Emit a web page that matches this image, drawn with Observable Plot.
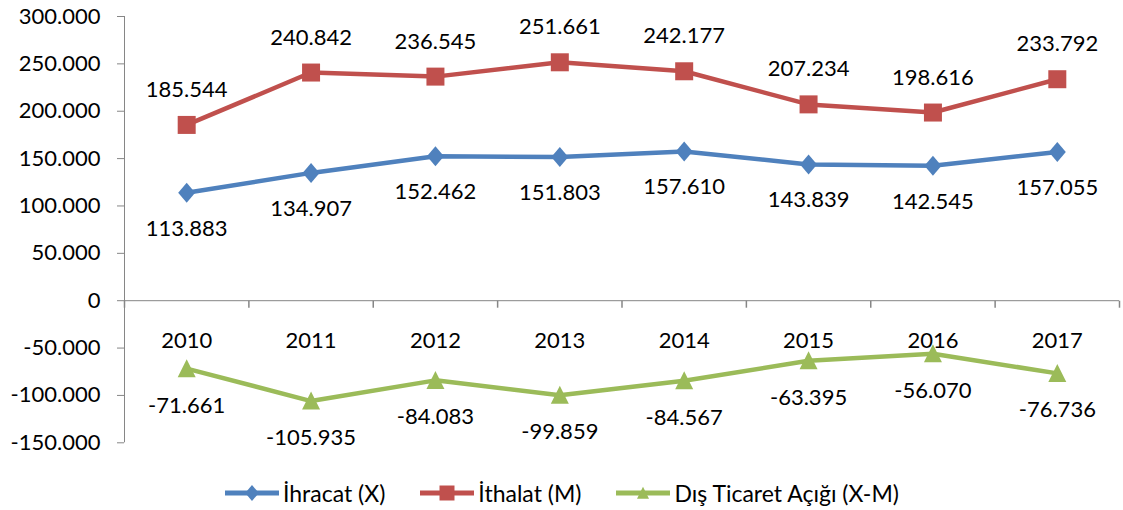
<!DOCTYPE html>
<html>
<head>
<meta charset="utf-8">
<script src="https://cdn.jsdelivr.net/npm/d3@7"></script>
<script src="https://cdn.jsdelivr.net/npm/@observablehq/plot@0.6"></script>
<style>
  body { margin: 0; background: #fff; font-family: Lato, sans-serif; }
  #chart { width: 1123px; height: 510px; position: relative; }
  #legend { position: absolute; left: 225px; top: 481px; height: 24px;
    display: flex; justify-content: flex-start; align-items: center; gap: 35px; font-size: 23px; color: #000; white-space: nowrap; }
  .item { display: flex; align-items: center; }
  .item svg { margin-right: 4px; }
</style>
</head>
<body>
<div id="chart"></div>
<script>
const years = [2010, 2011, 2012, 2013, 2014, 2015, 2016, 2017];
const ihracat = [113883, 134907, 152462, 151803, 157610, 143839, 142545, 157055];
const ithalat = [185544, 240842, 236545, 251661, 242177, 207234, 198616, 233792];
const acik = [-71661, -105935, -84083, -99859, -84567, -63395, -56070, -76736];
const yTicks = [-150000, -100000, -50000, 0, 50000, 100000, 150000, 200000, 250000, 300000];
const seriesNames = ["İhracat (X)", "İthalat (M)", "Dış Ticaret Açığı (X-M)"];
const colors = ["#4F81BD", "#C0504D", "#9BBB59"];

const loc = d3.formatLocale({decimal: ",", thousands: ".", grouping: [3], currency: ["", ""], minus: "-"});
const fmt = loc.format(",d");

const toRows = vals => years.map((y, i) => ({year: y, value: vals[i]}));
const rX = toRows(ihracat), rM = toRows(ithalat), rA = toRows(acik);
const bounds = d3.range(years[0] - 0.5, years[years.length - 1] + 1, 1);

const diamond = {draw(ctx, size) { const r = Math.sqrt(size / Math.PI); ctx.moveTo(0, -r); ctx.lineTo(r * 0.85, 0); ctx.lineTo(0, r); ctx.lineTo(-r * 0.85, 0); ctx.closePath(); }};
const square = {draw(ctx, size) { const r = Math.sqrt(size / Math.PI); ctx.rect(-r, -r, 2 * r, 2 * r); }};
const triangle = {draw(ctx, size) { const r = Math.sqrt(size / Math.PI); ctx.moveTo(0, -r * 1.05); ctx.lineTo(r, r * 0.95); ctx.lineTo(-r, r * 0.95); ctx.closePath(); }};
const tickDown = {draw(ctx, size) { const r = Math.sqrt(size / Math.PI); ctx.moveTo(0, 0); ctx.lineTo(0, r); }};

const gray = "#868686";
const plot = Plot.plot({
  width: 1123,
  height: 468,
  marginLeft: 124,
  marginRight: 4,
  marginTop: 16,
  marginBottom: 468 - 442.3,
  style: {fontFamily: "Lato, sans-serif", fontSize: "22px", background: "transparent", color: "#000"},
  x: {type: "linear", domain: [years[0] - 0.5, years[years.length - 1] + 0.5], axis: null},
  y: {domain: [yTicks[0], yTicks[yTicks.length - 1]]},
  marks: [
    Plot.axisY({ticks: yTicks, tickFormat: fmt, tickSize: 7, tickPadding: 17, stroke: gray, fill: "#000", label: null}),
    Plot.ruleX([years[0] - 0.5], {y1: yTicks[0], y2: yTicks[yTicks.length - 1], stroke: gray}),
    Plot.ruleY([0], {x1: years[0] - 0.5, x2: years[years.length - 1] + 0.5, stroke: gray}),
    Plot.dot(bounds, {x: d => d, y: 0, symbol: tickDown, r: 7, stroke: gray, fill: "none"}),
    Plot.text(years, {x: d => d, y: 0, text: d => String(d), dy: 40.5, fill: "#000"}),
    Plot.line(rX, {x: "year", y: "value", stroke: colors[0], strokeWidth: 4.5}),
    Plot.line(rM, {x: "year", y: "value", stroke: colors[1], strokeWidth: 4.5}),
    Plot.line(rA, {x: "year", y: "value", stroke: colors[2], strokeWidth: 4.5}),
    Plot.dot(rX, {x: "year", y: "value", symbol: diamond, r: 10, fill: colors[0], stroke: "none"}),
    Plot.dot(rM, {x: "year", y: "value", symbol: square, r: 9, fill: colors[1], stroke: "none"}),
    Plot.dot(rA, {x: "year", y: "value", symbol: triangle, r: 9, fill: colors[2], stroke: "none"}),
    Plot.text(rX, {x: "year", y: "value", text: d => fmt(d.value), dy: 36, fill: "#000"}),
    Plot.text(rM, {x: "year", y: "value", text: d => fmt(d.value), dy: -35, fill: "#000"}),
    Plot.text(rA, {x: "year", y: "value", text: d => fmt(d.value), dy: 37, fill: "#000"})
  ]
});
const chart = document.getElementById("chart");
chart.appendChild(plot);

const legend = document.createElement("div");
legend.id = "legend";
const shapes = [diamond, square, triangle];
const legendR = [8, 7.5, 6];
seriesNames.forEach((name, i) => {
  const item = document.createElement("div");
  item.className = "item";
  const sw = d3.create("svg").attr("width", 54).attr("height", 24);
  sw.append("line").attr("x1", 0).attr("x2", 54).attr("y1", 12).attr("y2", 12)
    .attr("stroke", colors[i]).attr("stroke-width", 5);
  sw.append("path").attr("transform", "translate(27,12)")
    .attr("d", d3.symbol(shapes[i], Math.PI * legendR[i] * legendR[i])()).attr("fill", colors[i]);
  item.appendChild(sw.node());
  const t = document.createElement("span");
  t.textContent = name;
  item.appendChild(t);
  legend.appendChild(item);
});
chart.appendChild(legend);
</script>
</body>
</html>
